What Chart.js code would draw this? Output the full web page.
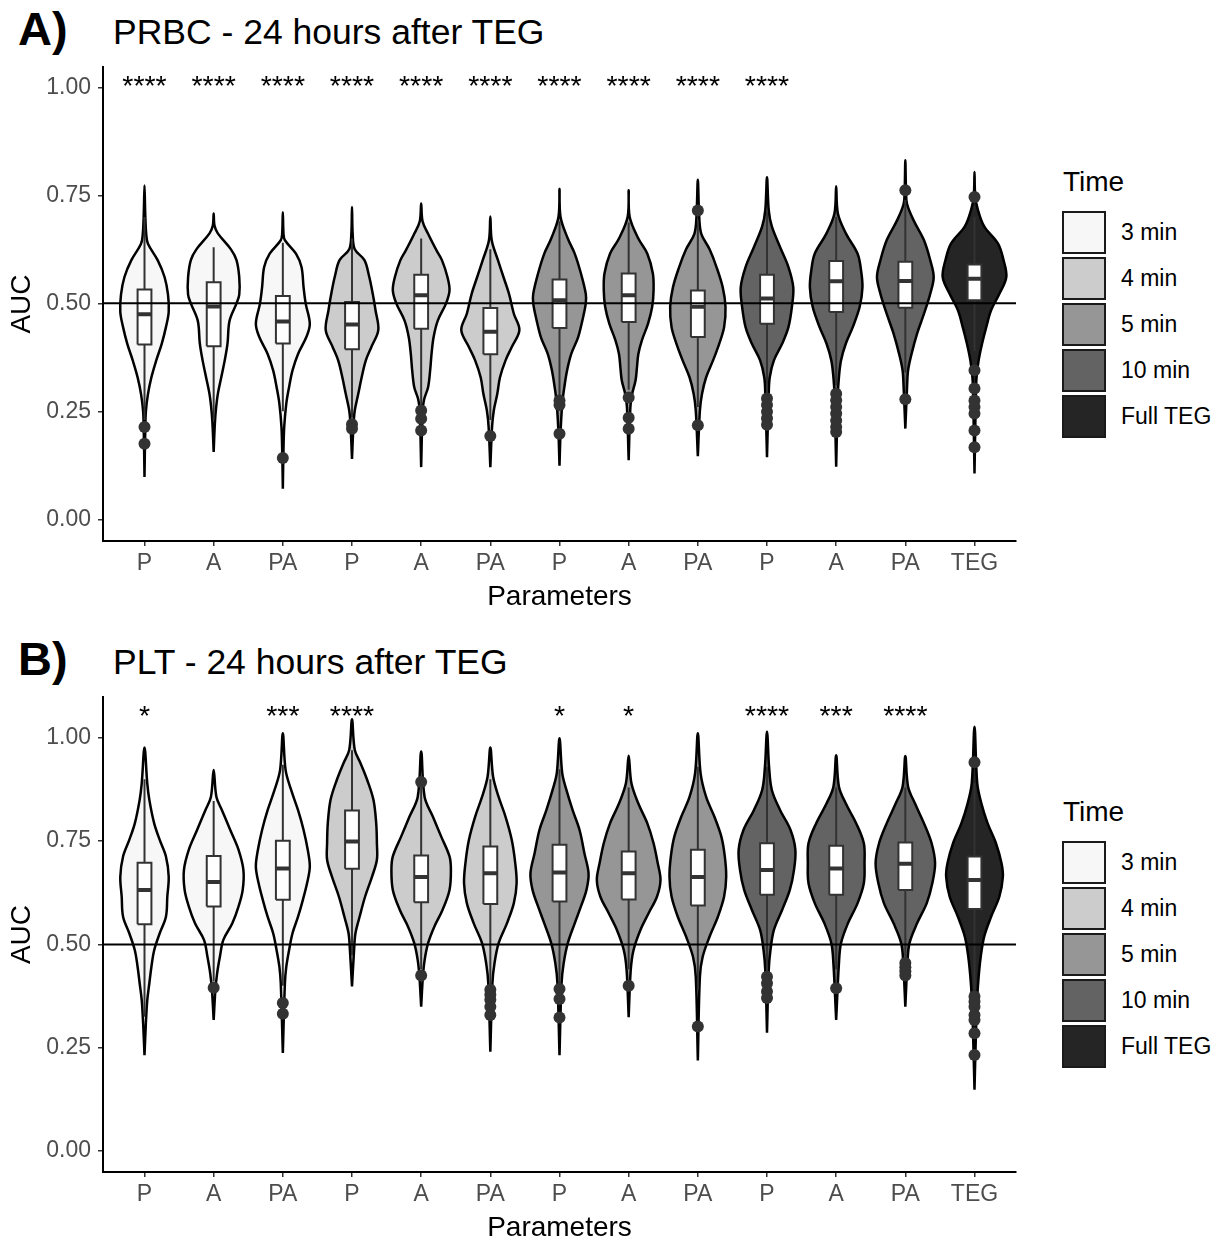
<!DOCTYPE html>
<html>
<head>
<meta charset="utf-8">
<script src="https://cdn.jsdelivr.net/npm/chart.js@4/dist/chart.umd.min.js"></script>
<style>
  html, body { margin: 0; padding: 0; background: #fff; overflow: hidden; }
  body { width: 1225px; height: 1240px; position: relative; font-family: 'Liberation Sans', Arial, Helvetica, sans-serif; color: #000; }
  canvas { position: absolute; left: 0; }
  .tag { position: absolute; left: 18px; font-weight: bold; font-size: 47px; line-height: 47px; white-space: nowrap; }
  .title { position: absolute; left: 113px; font-size: 35.5px; line-height: 35.5px; white-space: nowrap; }
  .legend-title { position: absolute; left: 1063px; font-size: 28px; line-height: 28px; white-space: nowrap; }
  .key { position: absolute; left: 1062px; width: 44px; height: 43px; box-sizing: border-box; border: 2.5px solid #1a1a1a; }
  .key-label { position: absolute; left: 1121px; font-size: 23px; line-height: 23px; white-space: nowrap; }
</style>
</head>
<body>
<div class="tag" style="top:5px">A)</div>
<div class="title" style="top:15px">PRBC - 24 hours after TEG</div>
<canvas id="prbc" width="1040" height="620" style="top:0px"></canvas>
<div id="legendA"></div>

<div class="tag" style="top:635px">B)</div>
<div class="title" style="top:645px">PLT - 24 hours after TEG</div>
<canvas id="plt" width="1040" height="621" style="top:630px"></canvas>
<div id="legendB"></div>

<script>
// ---- shared categories / groups ----
const categories = ["P", "A", "PA", "P", "A", "PA", "P", "A", "PA", "P", "A", "PA", "TEG"];
const timeLevels = ["3 min", "4 min", "5 min", "10 min", "Full TEG"];
const timeOfCategory = [0, 0, 0, 1, 1, 1, 2, 2, 2, 3, 3, 3, 4];
const timeColors = ["#F7F7F7", "#CCCCCC", "#969696", "#636363", "#252525"];
const yTicks = [0, 0.25, 0.5, 0.75, 1.0];
const refLine = 0.5;

// ---- PRBC: violin density profiles, [AUC, half width] from top tip to bottom tip ----
const prbcViolins = [
  [[.773,0],[.71,.01],[.66,.025],[.638,.05],[.60,.19],[.561,.29],[.52,.34],[.48,.35],[.445,.31],[.407,.25],[.368,.17],[.329,.10],[.29,.05],[.25,.02],[.20,.01],[.098,0]],
  [[.708,0],[.68,.012],[.662,.06],[.625,.25],[.60,.33],[.56,.37],[.52,.37],[.50,.33],[.46,.23],[.407,.20],[.368,.16],[.329,.11],[.29,.06],[.25,.03],[.214,.015],[.156,0]],
  [[.711,0],[.66,.01],[.646,.03],[.615,.19],[.584,.27],[.537,.30],[.50,.33],[.453,.39],[.422,.34],[.383,.22],[.345,.14],[.306,.09],[.268,.05],[.214,.02],[.15,.008],[.071,0]],
  [[.723,0],[.66,.01],[.625,.04],[.60,.18],[.561,.25],[.522,.30],[.484,.34],[.438,.38],[.399,.28],[.368,.20],[.329,.14],[.29,.09],[.252,.04],[.214,.02],[.140,0]],
  [[.731,0],[.69,.02],[.661,.10],[.623,.22],[.60,.30],[.561,.38],[.53,.41],[.50,.36],[.46,.24],[.422,.18],[.383,.15],[.345,.13],[.306,.10],[.276,.04],[.245,.02],[.121,0]],
  [[.701,0],[.646,.02],[.60,.11],[.561,.19],[.522,.27],[.476,.34],[.438,.42],[.399,.31],[.368,.22],[.329,.14],[.29,.10],[.252,.05],[.214,.025],[.121,0]],
  [[.765,0],[.70,.015],[.65,.12],[.615,.22],[.569,.31],[.522,.38],[.50,.38],[.46,.33],[.422,.27],[.383,.17],[.345,.11],[.306,.07],[.268,.04],[.20,.015],[.124,0]],
  [[.762,0],[.70,.015],[.65,.14],[.615,.27],[.569,.35],[.53,.36],[.492,.34],[.453,.28],[.414,.19],[.383,.14],[.352,.12],[.322,.10],[.29,.05],[.26,.025],[.137,0]],
  [[.786,0],[.70,.02],[.661,.05],[.625,.17],[.584,.27],[.537,.36],[.492,.40],[.445,.38],[.407,.31],[.368,.22],[.329,.12],[.29,.06],[.252,.03],[.146,0]],
  [[.792,0],[.716,.025],[.678,.07],[.63,.19],[.584,.31],[.537,.38],[.492,.36],[.445,.31],[.407,.22],[.368,.10],[.329,.04],[.29,.025],[.144,0]],
  [[.771,0],[.708,.025],[.662,.14],[.615,.31],[.576,.36],[.537,.38],[.492,.34],[.445,.24],[.407,.14],[.368,.07],[.329,.04],[.29,.025],[.122,0]],
  [[.831,0],[.76,.01],[.73,.025],[.692,.12],[.646,.27],[.60,.36],[.561,.41],[.522,.36],[.476,.27],[.43,.17],[.383,.09],[.345,.04],[.306,.025],[.21,0]],
  [[.804,0],[.75,.01],[.716,.05],[.678,.14],[.638,.34],[.60,.42],[.561,.46],[.522,.36],[.484,.24],[.445,.17],[.407,.11],[.368,.06],[.329,.03],[.29,.02],[.106,0]]
];
// [lower whisker, Q1, median, Q3, upper whisker]
const prbcBoxes = [
  [.23,.405,.475,.532,.70], [.23,.401,.493,.549,.63], [.25,.407,.458,.517,.64],
  [.235,.394,.451,.503,.65], [.26,.441,.519,.566,.65], [.23,.382,.434,.489,.625],
  [.28,.443,.507,.555,.69], [.30,.457,.519,.569,.687], [.26,.422,.492,.530,.692],
  [.29,.453,.511,.566,.715], [.31,.48,.551,.598,.70], [.34,.49,.552,.596,.74],
  [.39,.507,.557,.590,.70]
];
const prbcOutliers = [
  [.214,.175], [], [.142], [.22,.21], [.252,.233,.206], [.193],
  [.275,.265,.198], [.282,.235,.21], [.715,.218], [.28,.265,.249,.234,.219],
  [.291,.276,.26,.245,.229,.214,.202], [.762,.278], [.746,.345,.303,.275,.26,.245,.206,.167]
];
const prbcStars = ["****","****","****","****","****","****","****","****","****","****","","",""];
const prbcStarLevel = 1.0;
const prbcRange = [-0.05, 1.047];

// ---- PLT ----
const pltViolins = [
  [[.977,0],[.89,.04],[.85,.07],[.793,.14],[.753,.22],[.713,.31],[.664,.35],[.616,.33],[.567,.31],[.527,.22],[.486,.14],[.446,.10],[.406,.07],[.365,.04],[.309,.02],[.232,0]],
  [[.922,0],[.857,.04],[.825,.12],[.777,.24],[.729,.36],[.68,.43],[.632,.42],[.592,.36],[.551,.27],[.511,.14],[.47,.09],[.43,.05],[.39,.025],[.317,0]],
  [[1.011,0],[.922,.04],[.874,.12],[.825,.22],[.777,.30],[.729,.36],[.688,.39],[.648,.35],[.608,.29],[.567,.22],[.527,.14],[.486,.09],[.446,.05],[.406,.03],[.237,0]],
  [[1.045,0],[.971,.04],[.94,.12],[.898,.22],[.85,.31],[.793,.35],[.745,.36],[.705,.36],[.664,.29],[.616,.19],[.567,.11],[.527,.05],[.486,.03],[.398,0]],
  [[.967,0],[.857,.05],[.809,.17],[.761,.29],[.713,.41],[.68,.43],[.632,.41],[.584,.31],[.543,.19],[.503,.10],[.462,.05],[.422,.025],[.349,0]],
  [[.977,0],[.906,.04],[.857,.12],[.809,.22],[.753,.31],[.697,.36],[.648,.38],[.60,.34],[.551,.24],[.503,.12],[.454,.06],[.406,.03],[.24,0]],
  [[.999,0],[.914,.04],[.874,.10],[.825,.19],[.777,.29],[.721,.36],[.672,.42],[.632,.39],[.592,.31],[.551,.22],[.503,.12],[.454,.06],[.406,.03],[.232,0]],
  [[.957,0],[.89,.04],[.841,.14],[.793,.27],[.745,.36],[.697,.42],[.656,.46],[.616,.41],[.576,.29],[.535,.17],[.486,.07],[.438,.03],[.324,0]],
  [[1.011,0],[.914,.04],[.857,.12],[.809,.24],[.761,.34],[.713,.39],[.664,.41],[.616,.38],[.567,.29],[.519,.17],[.47,.07],[.422,.03],[.219,0]],
  [[1.015,0],[.93,.03],[.874,.07],[.825,.19],[.777,.34],[.729,.41],[.68,.39],[.632,.33],[.584,.22],[.535,.10],[.486,.05],[.438,.025],[.286,0]],
  [[.958,0],[.882,.04],[.841,.14],[.793,.29],[.745,.40],[.697,.41],[.648,.40],[.60,.31],[.551,.17],[.503,.07],[.454,.04],[.317,0]],
  [[.956,0],[.882,.04],[.841,.14],[.793,.27],[.745,.38],[.697,.43],[.648,.39],[.60,.31],[.551,.17],[.503,.06],[.454,.03],[.349,0]],
  [[1.027,0],[.89,.04],[.841,.10],[.793,.19],[.745,.31],[.697,.39],[.664,.41],[.616,.36],[.567,.24],[.519,.14],[.47,.09],[.422,.06],[.373,.04],[.309,.025],[.148,0]]
];
const pltBoxes = [
  [.325,.549,.632,.698,.90], [.41,.592,.651,.714,.847], [.40,.608,.684,.751,.935],
  [.473,.683,.749,.824,.97], [.44,.602,.663,.715,.88], [.40,.598,.672,.737,.90],
  [.40,.604,.674,.741,.924], [.44,.609,.672,.725,.88], [.39,.594,.663,.729,.93],
  [.435,.62,.68,.745,.93], [.44,.62,.684,.739,.88], [.47,.632,.695,.747,.88],
  [.39,.586,.656,.713,.89]
];
const pltOutliers = [
  [], [.395], [.358,.332], [], [.893,.425], [.39,.378,.366,.349,.329],
  [.392,.368,.323], [.40], [.301], [.422,.406,.386,.37], [.394],
  [.455,.445,.435,.425], [.941,.374,.362,.349,.329,.317,.285,.232]
];
const pltStars = ["*","","***","****","","","*","*","","****","***","****",""];
const pltStarLevel = 1.05;
const pltRange = [-0.051, 1.099];

// ---- drawing ----
const FONT = "'Liberation Sans', Arial, Helvetica, sans-serif";
Chart.defaults.font.family = FONT;
const BOX_HALF = 0.1;

function panelDatasets(violins, boxes, outliers) {
  const sets = [];
  violins.forEach((prof, i) => {
    const cx = i + 1;
    const right = prof.slice().reverse().map(([v, w]) => ({ x: cx + w, y: v }));
    const left = prof.map(([v, w]) => ({ x: cx - w, y: v }));
    sets.push({
      type: 'line', data: right.concat(left.slice(1)), fill: 'shape',
      backgroundColor: timeColors[timeOfCategory[i]], borderColor: '#000', borderWidth: 2.5,
      tension: 0.35, pointRadius: 0, order: 5
    });
  });
  const whisk = [];
  const meds = [];
  boxes.forEach(([lo, q1, med, q3, hi], i) => {
    const cx = i + 1;
    whisk.push({ x: cx, y: hi }, { x: cx, y: q3 }, { x: cx, y: null }, { x: cx, y: q1 }, { x: cx, y: lo }, { x: cx, y: null });
    meds.push({ x: cx - BOX_HALF, y: med }, { x: cx + BOX_HALF, y: med }, { x: cx, y: null });
    sets.push({
      type: 'line', fill: 'shape', backgroundColor: '#FFFFFF', borderColor: '#333333', borderWidth: 2,
      borderJoinStyle: 'miter', tension: 0, pointRadius: 0, order: 3,
      data: [{ x: cx - BOX_HALF, y: q1 }, { x: cx + BOX_HALF, y: q1 }, { x: cx + BOX_HALF, y: q3 },
             { x: cx - BOX_HALF, y: q3 }, { x: cx - BOX_HALF, y: q1 }]
    });
  });
  sets.push({ type: 'line', data: whisk, borderColor: '#333333', borderWidth: 2, fill: false, spanGaps: false, pointRadius: 0, order: 4 });
  sets.push({ type: 'line', data: meds, borderColor: '#333333', borderWidth: 4, borderCapStyle: 'butt', fill: false, spanGaps: false, pointRadius: 0, order: 2 });
  const pts = [];
  outliers.forEach((vals, i) => vals.forEach(v => pts.push({ x: i + 1, y: v })));
  sets.push({ type: 'scatter', data: pts, pointRadius: 6, pointBackgroundColor: '#333333', pointBorderWidth: 0, order: 1 });
  sets.push({ type: 'line', data: [{ x: 0.4, y: refLine }, { x: 13.6, y: refLine }], borderColor: '#000', borderWidth: 2, pointRadius: 0, fill: false, order: 0 });
  return sets;
}

const starPlugin = {
  id: 'stars',
  afterDatasetsDraw(chart, args, opts) {
    const { ctx, scales: { x, y } } = chart;
    ctx.save();
    ctx.font = "28.5px " + FONT;
    ctx.fillStyle = '#000';
    ctx.textAlign = 'center';
    ctx.textBaseline = 'middle';
    opts.labels.forEach((s, i) => {
      if (s) ctx.fillText(s, x.getPixelForValue(i + 1), y.getPixelForValue(opts.level));
    });
    ctx.restore();
  }
};

function axisCommon() {
  return {
    grid: { drawOnChartArea: false, drawTicks: true, tickLength: 5, color: '#333333', lineWidth: 1.5 },
    border: { display: true, color: '#000000', width: 2 }
  };
}

function makePanel(id, violins, boxes, outliers, stars, starLevel, range) {
  new Chart(document.getElementById(id), {
    type: 'scatter',
    data: { datasets: panelDatasets(violins, boxes, outliers) },
    plugins: [starPlugin],
    options: {
      responsive: false, animation: false, devicePixelRatio: 1,
      layout: { padding: { left: 0, top: 67, right: 24, bottom: 0 } },
      plugins: { legend: { display: false }, tooltip: { enabled: false }, stars: { labels: stars, level: starLevel } },
      scales: {
        x: Object.assign(axisCommon(), {
          type: 'linear', min: 0.4, max: 13.6,
          afterBuildTicks: s => { s.ticks = categories.map((c, i) => ({ value: i + 1 })); },
          afterFit: s => { s.height = 79; },
          ticks: { callback: v => categories[Math.round(v) - 1], font: { size: 23 }, color: '#4D4D4D', padding: 4, autoSkip: false, maxRotation: 0 },
          title: { display: true, text: 'Parameters', font: { size: 28 }, color: '#000', padding: { top: 0, bottom: 6 } }
        }),
        y: Object.assign(axisCommon(), {
          type: 'linear', min: range[0], max: range[1],
          afterBuildTicks: s => { s.ticks = yTicks.map(v => ({ value: v })); },
          afterFit: s => { s.width = 103; },
          ticks: { callback: v => Number(v).toFixed(2), font: { size: 23 }, color: '#4D4D4D', padding: 7 },
          title: { display: true, text: 'AUC', font: { size: 28 }, color: '#000', padding: { top: 5, bottom: 0 } }
        })
      }
    }
  });
}

function makeLegend(id, top) {
  const host = document.getElementById(id);
  let html = '<div class="legend-title" style="top:' + (top - 14) + 'px">Time</div>';
  timeLevels.forEach((lvl, k) => {
    const kt = top + 29 + k * 46;
    html += '<div class="key" style="top:' + kt + 'px;background:' + timeColors[k] + '"></div>';
    html += '<div class="key-label" style="top:' + (kt + 10) + 'px">' + lvl + '</div>';
  });
  host.innerHTML = html;
}

makePanel('prbc', prbcViolins, prbcBoxes, prbcOutliers, prbcStars, prbcStarLevel, prbcRange);
makePanel('plt', pltViolins, pltBoxes, pltOutliers, pltStars, pltStarLevel, pltRange);
makeLegend('legendA', 182);
makeLegend('legendB', 812);
</script>
</body>
</html>
